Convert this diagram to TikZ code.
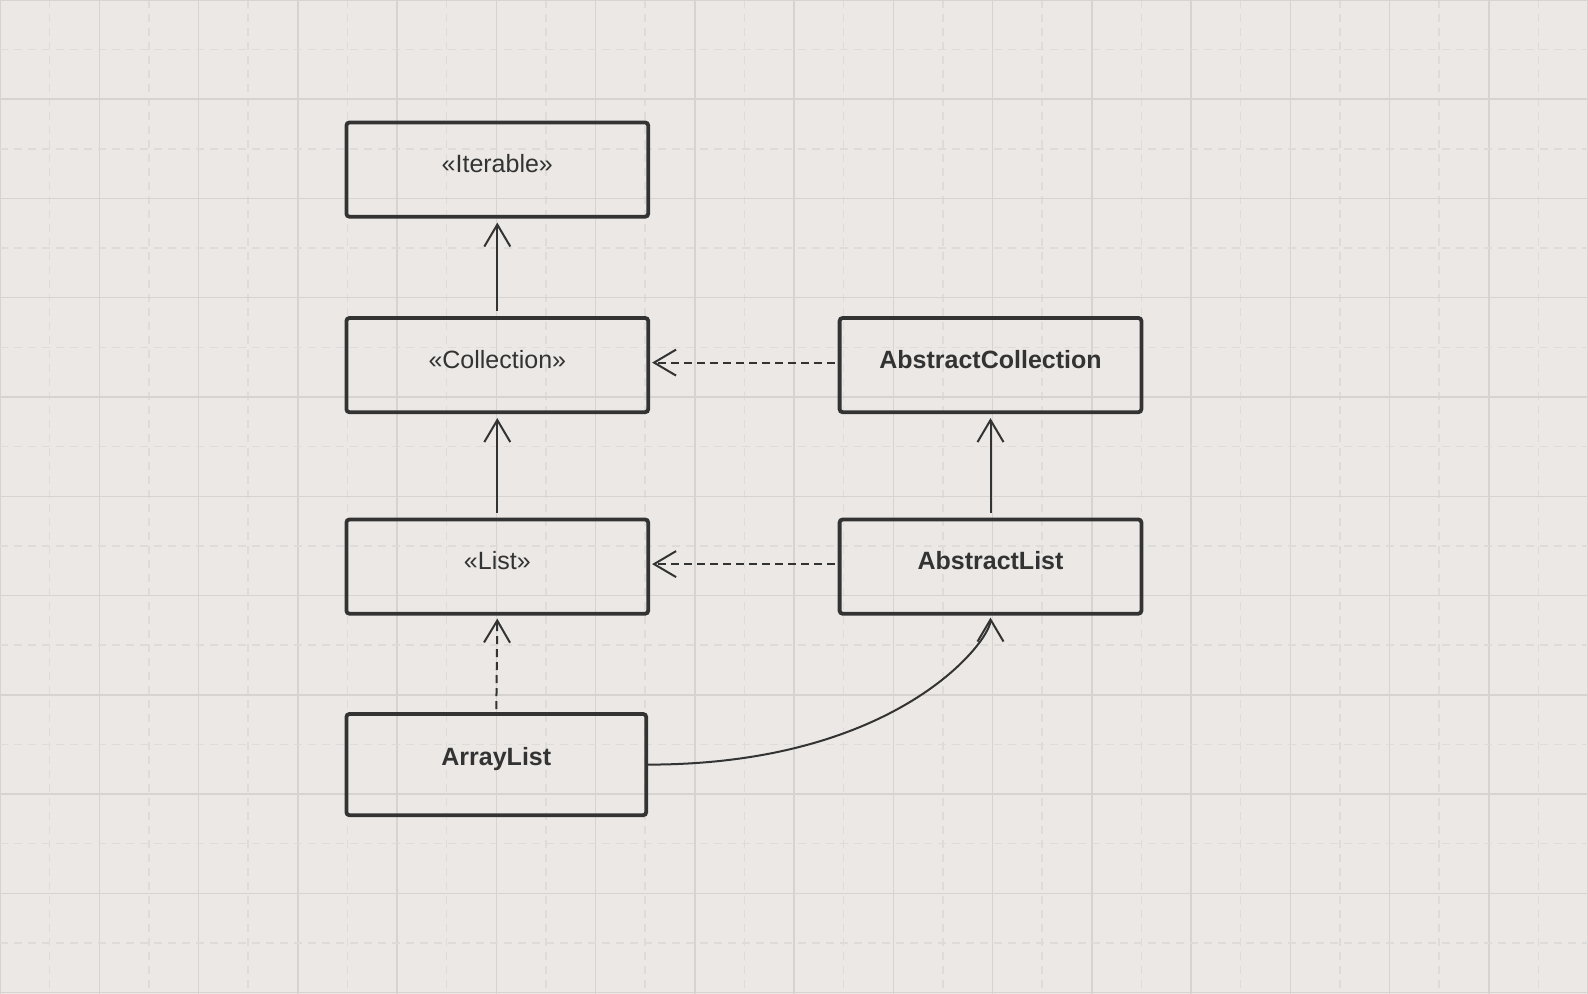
\documentclass[tikz,border=0pt]{standalone}
\usepackage{fontspec}
\setmainfont{Liberation Sans}
\usepackage{tikz}
\usetikzlibrary{arrows.meta}

\definecolor{paper}{RGB}{235,232,229}
\definecolor{gridsolid}{RGB}{214,211,209}
\definecolor{griddash}{RGB}{222,220,219}
\definecolor{ink}{RGB}{51,51,51}

\tikzset{
  umlbox/.style={draw=ink, text=ink, line width=1.9pt, rounded corners=1.5pt,
    minimum width=150.9pt, minimum height=47.1pt, inner sep=0pt,
    font=\fontsize{12.5}{15}\selectfont, text height=9pt, text depth=6pt},
  inherit/.style={draw=ink, line width=1pt, -{Straight Barb[length=11pt,width=13pt,line join=miter]}},
  realize/.style={inherit, dash pattern=on 4pt off 2.5pt},
}

\begin{document}
\begin{tikzpicture}[x=0.5pt,y=0.5pt,yscale=-1,xscale=1]
        %Shape: Background
        \fill[paper] (0,0) rectangle (1588,994);
        \useasboundingbox (0,0) rectangle (1588,994);

        %Shape: Grid
        \foreach \i in {0,...,16} {
          \draw[gridsolid, line width=0.75pt] (\i*99.25,0) -- (\i*99.25,994);
          \draw[griddash, line width=0.75pt, dash pattern=on 4pt off 3pt] (\i*99.25+49.6,0) -- (\i*99.25+49.6,994);
        }
        \foreach \j in {0,...,10} {
          \draw[gridsolid, line width=0.75pt] (0,\j*99.25) -- (1588,\j*99.25);
          \draw[griddash, line width=0.75pt, dash pattern=on 4pt off 3pt] (0,\j*99.25+49.6) -- (1588,\j*99.25+49.6);
        }

        % Class Node
        \node (iterable) [umlbox] at (497.3,169.6) {«Iterable»};
        % Class Node
        \node (collection) [umlbox] at (497.3,365.1) {«Collection»};
        % Class Node
        \node (list) [umlbox] at (497.3,566.6) {«List»};
        % Class Node
        \node (arraylist) [umlbox, minimum width=149.9pt, minimum height=50.6pt, text depth=8pt] at (496.3,764.6) {\bfseries ArrayList};
        % Class Node
        \node (abscoll) [umlbox] at (990.5,365.1) {\bfseries AbstractCollection};
        % Class Node
        \node (abslist) [umlbox] at (990.5,566.6) {\bfseries AbstractList};

        %Straight Lines
        \draw[inherit, shorten <=2.5pt, shorten >=2pt] (collection.north) -- (iterable.south);
        %Straight Lines
        \draw[inherit, shorten <=2.5pt, shorten >=2pt] (list.north) -- (collection.south);
        %Straight Lines
        \draw[inherit, shorten <=2.5pt, shorten >=2pt] (abslist.north) -- (abscoll.south);
        %Dashed Lines
        \draw[realize, shorten <=1.5pt, shorten >=1pt] ([yshift=-1.25pt]abscoll.west) -- ([yshift=-1.25pt]collection.east);
        %Dashed Lines
        \draw[realize, shorten <=1.5pt, shorten >=1pt] ([yshift=-1.25pt]abslist.west) -- ([yshift=-1.25pt]list.east);
        %Dashed Lines
        \draw[realize, shorten <=1.5pt, shorten >=1.5pt] (arraylist.north) -- (list.south);
        %Curve Lines
        \draw[inherit, shorten >=1pt] (arraylist.east) .. controls +(250,0) and +(0,25) .. (abslist.south);

\end{tikzpicture}
\end{document}
